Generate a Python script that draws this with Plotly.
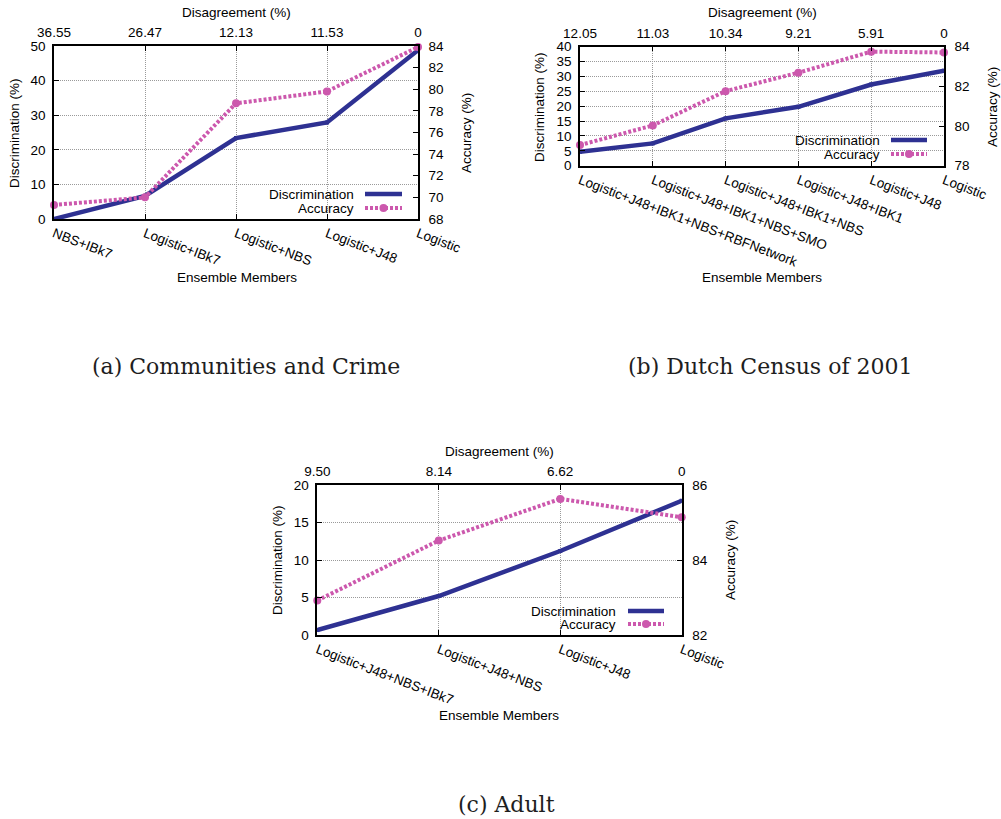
import plotly.graph_objects as go

# ---------------- data ----------------
a_members = ["NBS+IBk7", "Logistic+IBk7", "Logistic+NBS", "Logistic+J48", "Logistic"]
a_disagreement = ["36.55", "26.47", "12.13", "11.53", "0"]
a_discrimination = [0.0, 6.7, 23.4, 27.9, 48.8]
a_accuracy = [69.3, 70.0, 78.7, 79.8, 83.9]

b_members = ["Logistic+J48+IBK1+NBS+RBFNetwork", "Logistic+J48+IBK1+NBS+SMO",
             "Logistic+J48+IBK1+NBS", "Logistic+J48+IBK1", "Logistic+J48", "Logistic"]
b_disagreement = ["12.05", "11.03", "10.34", "9.21", "5.91", "0"]
b_discrimination = [4.7, 7.5, 15.9, 19.8, 27.3, 31.9]
b_accuracy = [79.04, 80.03, 81.76, 82.69, 83.75, 83.71]

c_members = ["Logistic+J48+NBS+IBk7", "Logistic+J48+NBS", "Logistic+J48", "Logistic"]
c_disagreement = ["9.50", "8.14", "6.62", "0"]
c_discrimination = [0.67, 5.2, 11.2, 17.9]
c_accuracy = [82.92, 84.52, 85.63, 85.14]

captions = ["(a) Communities and Crime", "(b) Dutch Census of 2001", "(c) Adult"]

# ---------------- style ----------------
W, H = 1001, 819
NAVY = "#2e3192"
PINK = "#cc58ad"
FONT = "Liberation Sans, Arial, sans-serif"
SERIF = "DejaVu Serif, serif"
FS = 13.5


def px(x):
    return x / W


def py(y):
    return 1 - y / H


fig = go.Figure()
annotations = []
shapes = []

panels = [
    dict(members=a_members, dis=a_disagreement, disc=a_discrimination, acc=a_accuracy,
         box=(54, 46, 418, 219), yl=(0, 50, 10), yr=(68, 84, 2),
         top_t=(236, 12.5), bot_t=(237, 277), left_t=(15, 133), right_t=(467, 133),
         cap=(246, 366), leg=(356, 194, 208, 365, 402), legbox=(267, 188)),
    dict(members=b_members, dis=b_disagreement, disc=b_discrimination, acc=b_accuracy,
         box=(580, 46.7, 944, 165.7), yl=(0, 40, 5), yr=(78, 84, 2),
         top_t=(762, 12.5), bot_t=(762, 277), left_t=(540, 107), right_t=(993, 107),
         cap=(770, 366), leg=(882, 140, 154, 891, 927), legbox=(767, 133)),
    dict(members=c_members, dis=c_disagreement, disc=c_discrimination, acc=c_accuracy,
         box=(317.3, 485, 681.7, 635), yl=(0, 20, 5), yr=(82, 86, 2),
         top_t=(499, 451), bot_t=(499, 715), left_t=(277, 560), right_t=(730, 560),
         cap=(507, 804), leg=(618, 611, 624, 628, 664), legbox=(527, 603)),
]

layout_axes = {}
for i, p in enumerate(panels):
    xb = 2 * i + 1   # bottom x / left y
    xt = 2 * i + 2   # top x / right y
    nb = "" if xb == 1 else str(xb)
    nt = str(xt)
    n = len(p["members"])
    x0, y0, x1, y1 = p["box"]

    fig.add_trace(go.Scatter(
        x=p["members"], y=p["disc"], xaxis="x" + nb, yaxis="y" + nb,
        mode="lines+markers", name="Discrimination",
        line=dict(color=NAVY, width=4.5), marker=dict(size=4, color=NAVY, symbol="square"),
        cliponaxis=False, showlegend=False))
    fig.add_trace(go.Scatter(
        x=p["dis"], y=p["acc"], xaxis="x" + nt, yaxis="y" + nt,
        mode="lines+markers", name="Accuracy",
        line=dict(color=PINK, width=4, dash="3px,2px"), marker=dict(size=8, color=PINK),
        cliponaxis=False, showlegend=False))

    common = dict(showline=True, linecolor="black", linewidth=1.5, ticks="inside",
                  ticklen=5, tickcolor="black", tickwidth=1, automargin=False,
                  tickfont=dict(family=FONT, size=FS, color="black"), zeroline=False)
    grid = dict(showgrid=True, gridcolor="#9a9a9a", gridwidth=1, griddash="1px,1px")

    layout_axes["xaxis" + nb] = dict(
        domain=[px(x0), px(x1)], anchor="y" + nb, type="category",
        categoryorder="array", categoryarray=p["members"], range=[0, n - 1],
        tickangle=21, **grid, **common)
    layout_axes["yaxis" + nb] = dict(
        domain=[py(y1), py(y0)], anchor="x" + nb, range=[p["yl"][0], p["yl"][1]],
        dtick=p["yl"][2], tick0=0, ticklabelstandoff=4, **grid, **common)
    layout_axes["xaxis" + nt] = dict(
        overlaying="x" + nb, side="top", anchor="y" + nt, type="category",
        categoryorder="array", categoryarray=p["dis"], range=[0, n - 1],
        tickangle=0, ticklabelstandoff=2, showgrid=False, **common)
    layout_axes["yaxis" + nt] = dict(
        overlaying="y" + nb, side="right", anchor="x" + nt,
        range=[p["yr"][0], p["yr"][1]], dtick=p["yr"][2], tick0=p["yr"][0],
        ticklabelstandoff=6, showgrid=False, **common)

    tf = dict(family=FONT, size=FS, color="black")
    ctr = dict(xref="paper", yref="paper", showarrow=False, xanchor="center", yanchor="middle")
    annotations += [
        dict(text="Disagreement (%)", x=px(p["top_t"][0]), y=py(p["top_t"][1]), font=tf, **ctr),
        dict(text="Ensemble Members", x=px(p["bot_t"][0]), y=py(p["bot_t"][1]), font=tf, **ctr),
        dict(text="Discrimination (%)", x=px(p["left_t"][0]), y=py(p["left_t"][1]),
             font=tf, textangle=-90, **ctr),
        dict(text="Accuracy (%)", x=px(p["right_t"][0]), y=py(p["right_t"][1]),
             font=tf, textangle=-90, **ctr),
        dict(text=captions[i], x=px(p["cap"][0]), y=py(p["cap"][1]),
             font=dict(family=SERIF, size=22, color="#1e1e1e"), **ctr),
    ]

    # key (gnuplot style: label then sample)
    tx, ya, yb, sx0, sx1 = p["leg"]
    lbx, lby = p["legbox"]
    shapes.append(dict(type="rect", xref="paper", yref="paper", layer="between",
                       x0=px(lbx), x1=px(x1 - 1.5), y0=py(y1 - 1.5), y1=py(lby),
                       fillcolor="white", line=dict(width=0)))
    annotations += [
        dict(text="Discrimination", x=px(tx), y=py(ya), xanchor="right", yanchor="middle",
             xref="paper", yref="paper", showarrow=False, font=tf),
        dict(text="Accuracy", x=px(tx), y=py(yb), xanchor="right", yanchor="middle",
             xref="paper", yref="paper", showarrow=False, font=tf),
    ]
    shapes.append(dict(type="line", xref="paper", yref="paper", layer="above",
                       x0=px(sx0), x1=px(sx1), y0=py(ya), y1=py(ya),
                       line=dict(color=NAVY, width=4.5)))
    shapes.append(dict(type="line", xref="paper", yref="paper", layer="above",
                       x0=px(sx0), x1=px(sx1), y0=py(yb), y1=py(yb),
                       line=dict(color=PINK, width=4, dash="3px,2px")))
    cx = (sx0 + sx1) / 2
    shapes.append(dict(type="circle", xref="paper", yref="paper", layer="above",
                       x0=px(cx - 4), x1=px(cx + 4), y0=py(yb + 4), y1=py(yb - 4),
                       fillcolor=PINK, line=dict(width=0)))

fig.update_layout(
    width=W, height=H, autosize=False,
    margin=dict(l=0, r=0, t=0, b=0),
    paper_bgcolor="white", plot_bgcolor="white",
    showlegend=False,
    font=dict(family=FONT, size=FS, color="black"),
    annotations=annotations, shapes=shapes,
    **layout_axes,
)

fig.write_html("out.html", config={"displayModeBar": False},
               post_script="document.body.style.margin='0';")
